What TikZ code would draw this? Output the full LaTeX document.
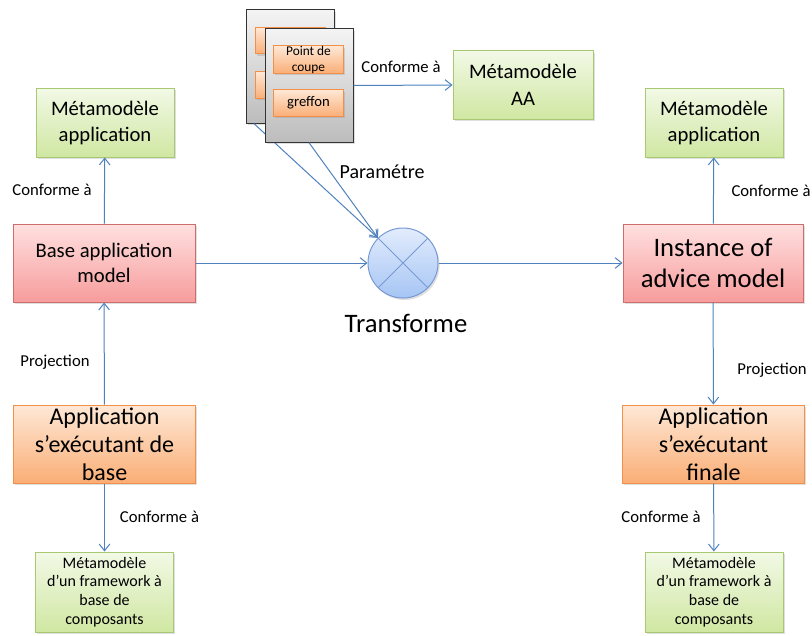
\documentclass[tikz,border=0pt]{standalone}
\usepackage{fontspec}
\setmainfont{Carlito}
\usetikzlibrary{arrows.meta,shadows}

\definecolor{greenTop}{RGB}{242,249,230}
\definecolor{greenBot}{RGB}{208,231,162}
\definecolor{greenLine}{RGB}{168,200,116}
\definecolor{redTop}{RGB}{255,224,224}
\definecolor{redBot}{RGB}{247,156,156}
\definecolor{redLine}{RGB}{205,110,108}
\definecolor{orangeTop}{RGB}{254,232,214}
\definecolor{orangeBot}{RGB}{250,174,118}
\definecolor{orangeLine}{RGB}{242,144,74}
\definecolor{blueLine}{RGB}{79,129,189}
\definecolor{blueTop}{RGB}{226,236,253}
\definecolor{blueBot}{RGB}{166,197,244}
\definecolor{blueEdge}{RGB}{120,154,212}
\definecolor{grayTop}{RGB}{244,244,244}
\definecolor{grayBot}{RGB}{188,188,188}

\begin{document}
\begin{tikzpicture}[
        x=0.75pt, y=-0.75pt,
        box/.style={
            draw,
            line width=0.75pt,
            align=center,
            inner sep=0pt,
            drop shadow={opacity=0.25, shadow xshift=1.2pt, shadow yshift=-1.5pt}
        },
        meta/.style={box, draw=greenLine, top color=greenTop, bottom color=greenBot},
        model/.style={box, draw=redLine, top color=redTop, bottom color=redBot},
        app/.style={box, draw=orangeLine, top color=orangeTop, bottom color=orangeBot,
            minimum width=137pt, minimum height=58.5pt,
            font=\fontsize{18}{21}\selectfont},
        fw/.style={meta, minimum width=104pt, minimum height=60pt,
            font=\fontsize{12}{14}\selectfont},
        sheet/.style={box, draw=black!80, top color=grayTop, bottom color=grayBot,
            minimum width=66pt, minimum height=85pt},
        cutbox/.style={box, draw=orangeLine, top color=orangeTop, bottom color=orangeBot,
            minimum width=52pt, minimum height=20pt},
        lbl/.style={inner sep=0pt, font=\fontsize{12.5}{15}\selectfont},
        arrow/.style={-{Straight Barb[length=5pt,width=8pt]}, draw=blueLine, line width=0.75pt}
    ]
    \useasboundingbox (0,0) rectangle (812,635);

    % left column
    \node[meta, minimum width=103.5pt, minimum height=51.75pt,
        font=\fontsize{15.5}{19.5}\selectfont] (metaL) at (105,122.5) {Métamodèle\\application};
    \node[model, minimum width=136.5pt, minimum height=58.5pt,
        font=\fontsize{15.5}{19}\selectfont] (baseM) at (104,263) {Base application\\model};
    \node[app] (appB) at (104.5,444) {Application\\s’exécutant de\\base};
    \node[fw] (fwL) at (104.5,592) {Métamodèle\\d’un framework à\\base de\\composants};

    % right column
    \node[meta, minimum width=103.5pt, minimum height=51.75pt,
        font=\fontsize{15.5}{19.5}\selectfont] (metaR) at (714,122.5) {Métamodèle\\application};
    \node[model, minimum width=135pt, minimum height=58.5pt,
        font=\fontsize{20}{23}\selectfont] (inst) at (713,263) {Instance of\\advice model};
    \node[app, minimum width=136pt] (appF) at (713.5,444) {Application\\s’exécutant\\finale};
    \node[fw, minimum width=103.5pt] (fwR) at (714,592) {Métamodèle\\d’un framework à\\base de\\composants};

    % transformation
    \node[circle, draw=blueEdge, line width=0.75pt, top color=blueTop, bottom color=blueBot,
        minimum size=52.5pt, inner sep=0pt,
        drop shadow={opacity=0.25, shadow xshift=1.2pt, shadow yshift=-1.5pt}] (tr) at (403,263) {};
    \draw[blueEdge, line width=0.75pt] (tr.north west) -- (tr.south east)
        (tr.north east) -- (tr.south west);
    \node[lbl, font=\fontsize{20}{24}\selectfont] (trL) at (406,323) {Transforme};

    % advice sheets
    \node[sheet] (bk) at (290.5,66.5) {};
    \node[cutbox] (bk1) at (290.5,40.5) {};
    \node[cutbox] (bk2) at (290.5,85) {};
    \draw[arrow] ([xshift=6pt]bk.south west) -- (tr.north west);
    \node[sheet] (fr) at (309,85.5) {};
    \node[cutbox, font=\fontsize{10}{12}\selectfont] (pdc) at (308.5,59.5) {Point de\\coupe};
    \node[cutbox, font=\fontsize{11}{13}\selectfont] (gref) at (308.5,103) {greffon};
    \node[meta, minimum width=105pt, minimum height=51pt,
        font=\fontsize{15.5}{20}\selectfont] (metaAA) at (523,85) {Métamodèle\\AA};

    \draw[arrow] (fr.south) -- (tr.north west);
    \draw[arrow] (fr.east) -- (metaAA.west);
    \draw[arrow] (baseM) -- (metaL);
    \draw[arrow] (appB) -- (baseM);
    \draw[arrow] (appB) -- (fwL);
    \draw[arrow] (baseM) -- (tr);
    \draw[arrow] (tr) -- (inst);
    \draw[arrow] (inst) -- (metaR);
    \draw[arrow] (inst) -- (appF);
    \draw[arrow] (appF) -- (fwR);

    % labels
    \node[lbl] (cfAA) at (401,67) {Conforme à};
    \node[lbl, font=\fontsize{15}{18}\selectfont] (par) at (382,172) {Paramétre};
    \node[lbl] (cfL) at (52,190) {Conforme à};
    \node[lbl] (prL) at (55,362) {Projection};
    \node[lbl] (cfLb) at (159.5,517) {Conforme à};
    \node[lbl] (cfR) at (771,191) {Conforme à};
    \node[lbl] (prR) at (772,370) {Projection};
    \node[lbl] (cfRb) at (661,517) {Conforme à};

    \end{tikzpicture}
\end{document}
